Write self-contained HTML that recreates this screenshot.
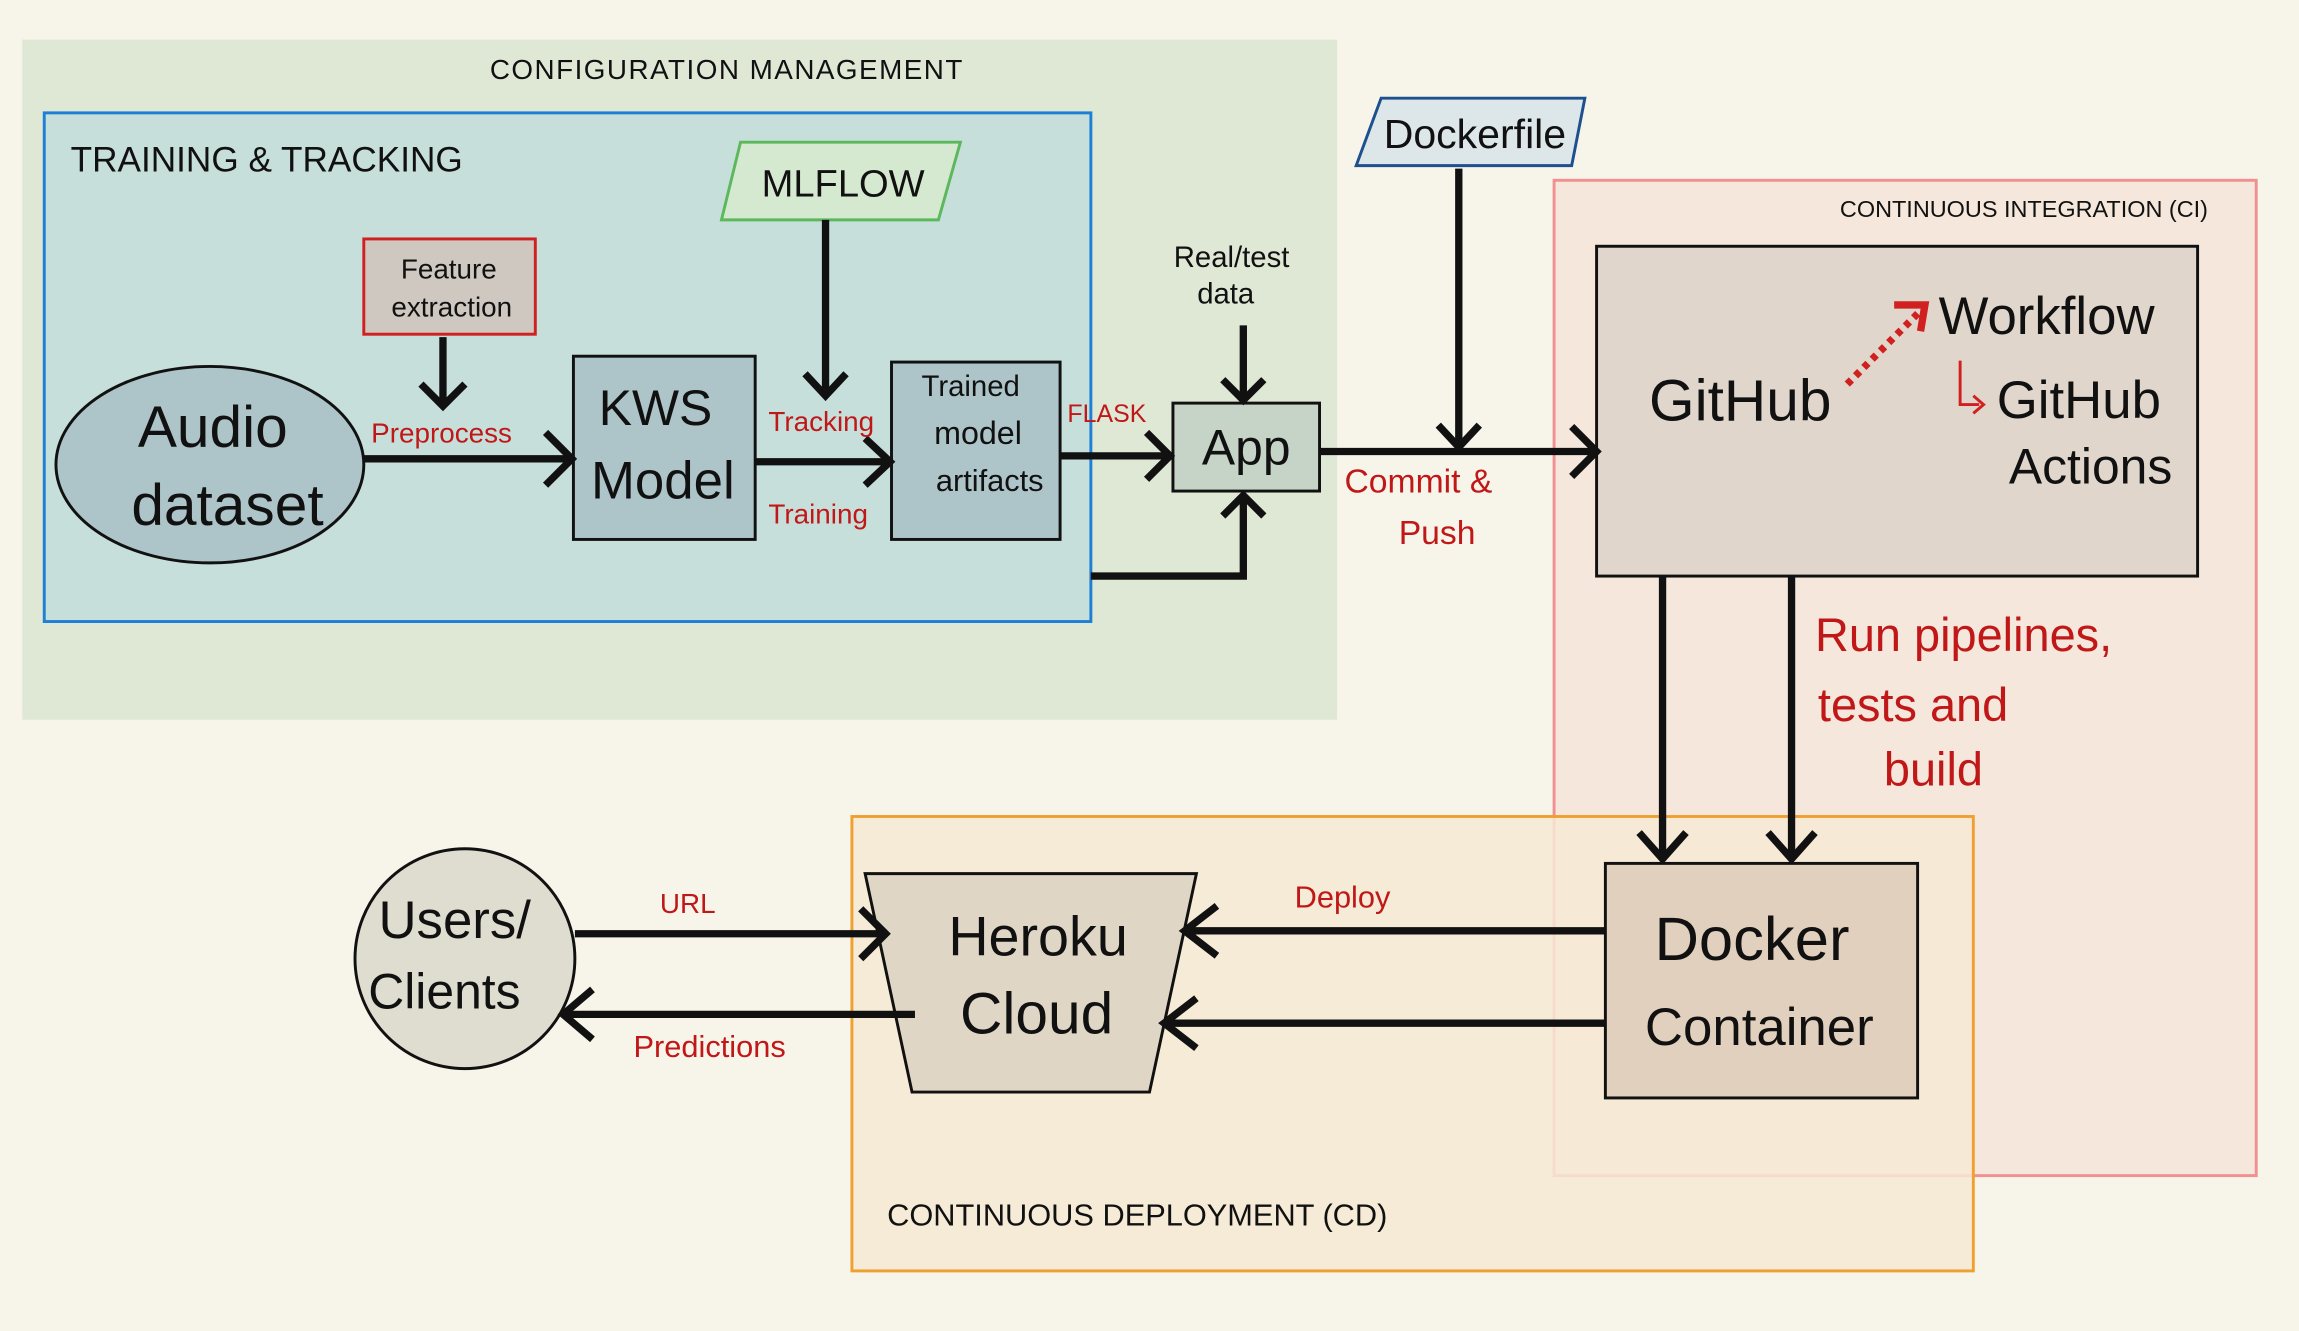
<!DOCTYPE html>
<html><head><meta charset="utf-8"><style>
html,body{margin:0;padding:0;background:#f7f5e9;}
svg{display:block;}
text{font-family:"Liberation Sans",sans-serif;}
</style></head><body>
<svg width="2299" height="1331" viewBox="0 0 1568 908" xmlns="http://www.w3.org/2000/svg">
<defs>
<marker id="a" viewBox="0 0 20 20" refX="16" refY="10" markerWidth="6" markerHeight="6" orient="auto" markerUnits="userSpaceOnUse" style="overflow:visible">
</marker>
</defs>
<rect width="1568" height="908" fill="#f7f5e9"/>
<!-- config mgmt -->
<rect x="15" y="27" width="897" height="464" fill="#dfe7d5"/>
<text x="334" y="54" font-size="19" fill="#111" letter-spacing="1">CONFIGURATION  MANAGEMENT</text>
<!-- training -->
<rect x="30" y="77" width="714" height="347" fill="#c7dfda" stroke="#1e7fd6" stroke-width="2"/>
<text x="48" y="117" font-size="24" fill="#111">TRAINING &amp; TRACKING</text>
<!-- CI -->
<rect x="1060" y="123" width="479" height="679" fill="#f5e4d8" fill-opacity="0.85" stroke="#f09090" stroke-width="2"/>
<text x="1255" y="148" font-size="16" fill="#111">CONTINUOUS INTEGRATION (CI)</text>
<!-- CD -->
<rect x="581" y="557" width="765" height="310" fill="#f6e9d4" fill-opacity="0.85" stroke="#f0a030" stroke-width="2"/>
<text x="605" y="836" font-size="21" fill="#111">CONTINUOUS DEPLOYMENT (CD)</text>
<!-- nodes -->
<polygon points="505,97 655,97 640,150 492,150" fill="#d5e8d0" stroke="#5cb85c" stroke-width="2"/>
<text x="575" y="134" font-size="26" fill="#111" text-anchor="middle">MLFLOW</text>
<rect x="248" y="163" width="117" height="65" fill="#cfc8c0" stroke="#d02020" stroke-width="2"/>
<text x="306" y="190" font-size="19" fill="#111" text-anchor="middle">Feature</text>
<text x="308" y="216" font-size="19" fill="#111" text-anchor="middle">extraction</text>
<ellipse cx="143" cy="317" rx="105" ry="67" fill="#adc4c8" stroke="#111" stroke-width="2"/>
<text x="145" y="305" font-size="40" fill="#111" text-anchor="middle">Audio</text>
<text x="155" y="358" font-size="40" fill="#111" text-anchor="middle">dataset</text>
<rect x="391" y="243" width="124" height="125" fill="#adc4c8" stroke="#111" stroke-width="2"/>
<text x="447" y="290" font-size="34" fill="#111" text-anchor="middle">KWS</text>
<text x="452" y="340" font-size="36" fill="#111" text-anchor="middle">Model</text>
<rect x="608" y="247" width="115" height="121" fill="#adc4c8" stroke="#111" stroke-width="2"/>
<text x="662" y="270" font-size="20" fill="#111" text-anchor="middle">Trained</text>
<text x="667" y="303" font-size="22" fill="#111" text-anchor="middle">model</text>
<text x="675" y="335" font-size="21" fill="#111" text-anchor="middle">artifacts</text>
<rect x="800" y="275" width="100" height="60" fill="#c6d4c8" stroke="#111" stroke-width="2"/>
<text x="850" y="317" font-size="34" fill="#111" text-anchor="middle">App</text>
<polygon points="942,67 1081,67 1072,113 925,113" fill="#dde6e8" stroke="#1e4f8f" stroke-width="2"/>
<text x="1006" y="101" font-size="28" fill="#111" text-anchor="middle">Dockerfile</text>
<rect x="1089" y="168" width="410" height="225" fill="#e0d6cc" stroke="#111" stroke-width="2"/>
<text x="1187" y="287" font-size="40" fill="#111" text-anchor="middle">GitHub</text>
<text x="1396" y="228" font-size="36" fill="#111" text-anchor="middle">Workflow</text>
<text x="1418" y="285" font-size="36" fill="#111" text-anchor="middle">GitHub</text>
<text x="1426" y="330" font-size="34" fill="#111" text-anchor="middle">Actions</text>
<path d="M1337,246 V276 H1350" fill="none" stroke="#d02020" stroke-width="2"/>
<path d="M1346,270 L1353,276 L1346,282" fill="none" stroke="#d02020" stroke-width="2"/>
<path d="M1260,262 L1310,212" stroke="#d02020" stroke-width="5" stroke-dasharray="4,4"/>
<path d="M1292,208 L1313,208 L1310,226" fill="none" stroke="#d02020" stroke-width="5"/>
<rect x="1095" y="589" width="213" height="160" fill="#e2d0be" stroke="#111" stroke-width="2"/>
<text x="1195" y="655" font-size="42" fill="#111" text-anchor="middle">Docker</text>
<text x="1200" y="713" font-size="36" fill="#111" text-anchor="middle">Container</text>
<polygon points="590,596 816,596 784,745 622,745" fill="#e0d6c6" stroke="#111" stroke-width="2"/>
<text x="708" y="652" font-size="38" fill="#111" text-anchor="middle">Heroku</text>
<text x="707" y="705" font-size="40" fill="#111" text-anchor="middle">Cloud</text>
<circle cx="317" cy="654" r="75" fill="#dfddd0" stroke="#111" stroke-width="2"/>
<text x="310" y="640" font-size="36" fill="#111" text-anchor="middle">Users/</text>
<text x="303" y="688" font-size="34" fill="#111" text-anchor="middle">Clients</text>
<!-- edges -->
<g fill="none" stroke="#111" stroke-width="5" stroke-linejoin="miter">
<path d="M248,313 H388"/><path d="M372,295 L390,313 L372,331"/>
<path d="M302,230 V275"/><path d="M287,262 L302,277 L317,262"/>
<path d="M563,150 V268"/><path d="M549,255 L563,270 L577,255"/>
<path d="M515,315 H605"/><path d="M590,299 L607,315 L590,331"/>
<path d="M723,311 H797"/><path d="M782,295 L798,311 L782,327"/>
<path d="M848,222 V272"/><path d="M834,259 L848,273 L862,259"/>
<path d="M744,393 H848 V340"/><path d="M834,352 L848,338 L862,352"/>
<path d="M900,308 H1087"/><path d="M1072,291 L1089,308 L1072,325"/>
<path d="M995,115 V305"/><path d="M981,290 L995,305 L1009,290"/>
<path d="M1134,393 V585"/><path d="M1118,568 L1134,586 L1150,568"/>
<path d="M1222,393 V585"/><path d="M1206,568 L1222,586 L1238,568"/>
<path d="M1095,635 H808"/><path d="M830,618 L808,635 L830,652"/>
<path d="M1095,698 H794"/><path d="M816,681 L794,698 L816,715"/>
<path d="M392,637 H603"/><path d="M587,620 L604,637 L587,654"/>
<path d="M624,692 H383"/><path d="M404,675 L384,692 L404,709"/>
</g>
<!-- labels -->
<g fill="#c01818">
<text x="253" y="302" font-size="19">Preprocess</text>
<text x="524" y="294" font-size="19">Tracking</text>
<text x="524" y="357" font-size="19">Training</text>
<text x="728" y="288" font-size="17">FLASK</text>
<text x="917" y="336" font-size="23">Commit &amp;</text>
<text x="954" y="371" font-size="23">Push</text>
<text x="1238" y="444" font-size="32">Run pipelines,</text>
<text x="1240" y="492" font-size="32">tests  and</text>
<text x="1285" y="536" font-size="32">build</text>
<text x="883" y="619" font-size="21">Deploy</text>
<text x="450" y="623" font-size="19">URL</text>
<text x="432" y="721" font-size="21">Predictions</text>
</g>
<text x="840" y="182" font-size="20" fill="#111" text-anchor="middle">Real/test</text>
<text x="836" y="207" font-size="20" fill="#111" text-anchor="middle">data</text>
</svg>
</body></html>
